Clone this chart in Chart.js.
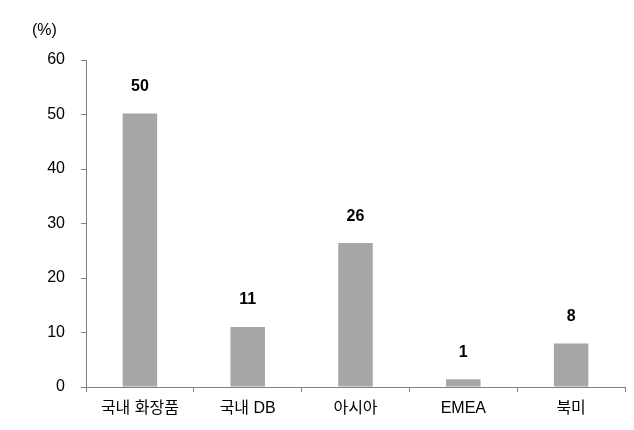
<!DOCTYPE html>
<html>
<head>
<meta charset="utf-8">
<script src="https://cdn.jsdelivr.net/npm/chart.js@4"></script>
<style>
html,body{margin:0;padding:0;background:#fff;}
#wrap{width:634px;height:430px;position:relative;}
</style>
</head>
<body>
<div id="wrap"><canvas id="c" width="634" height="430"></canvas></div>
<script>
const categories = ['국내 화장품', '국내 DB', '아시아', 'EMEA', '북미'];
const values = [50.2, 11, 26.4, 1.4, 8];
const valueLabels = ['50', '11', '26', '1', '8'];
const yTicks = [0, 10, 20, 30, 40, 50, 60];
const unitLabel = '(%)';

const FONT = "'Liberation Sans', 'Noto Sans CJK KR', sans-serif";

const labelPlugin = {
  id: 'labels',
  afterDatasetsDraw(chart) {
    const ctx = chart.ctx;
    const meta = chart.getDatasetMeta(0);
    ctx.save();
    ctx.fillStyle = '#000';
    ctx.font = "bold 16px " + FONT;
    ctx.textAlign = 'center';
    ctx.textBaseline = 'middle';
    meta.data.forEach((bar, i) => {
      ctx.fillText(valueLabels[i], bar.x, bar.y - 27);
    });
    ctx.font = "16px " + FONT;
    ctx.textAlign = 'left';
    ctx.fillText(unitLabel, 32, 31);
    ctx.restore();
  }
};

new Chart(document.getElementById('c'), {
  type: 'bar',
  data: {
    labels: categories,
    datasets: [{
      data: values,
      backgroundColor: '#A6A6A6',
      borderWidth: 0,
      categoryPercentage: 1.0,
      barPercentage: 0.32
    }]
  },
  options: {
    responsive: false,
    animation: false,
    devicePixelRatio: 1,
    layout: { padding: { top: 60, right: 9, left: 0, bottom: 0 } },
    plugins: { legend: { display: false }, tooltip: { enabled: false } },
    scales: {
      x: {
        grid: { display: true, offset: true, drawOnChartArea: false, drawTicks: true, tickLength: 5, color: '#808080', lineWidth: 1 },
        border: { display: true, color: '#808080', width: 1 },
        ticks: { color: '#000', font: { family: FONT, size: 16 }, padding: 7, maxRotation: 0, autoSkip: false },
        afterFit(s) { s.height = 43; }
      },
      y: {
        min: 0, max: 60,
        afterBuildTicks(s) { s.ticks = yTicks.map(v => ({ value: v })); },
        grid: { display: true, drawOnChartArea: false, drawTicks: true, tickLength: 5, color: '#808080', lineWidth: 1 },
        border: { display: true, color: '#808080', width: 1 },
        ticks: { color: '#000', font: { family: FONT, size: 16 }, padding: 16 },
        afterFit(s) { s.width = 86; }
      }
    }
  },
  plugins: [labelPlugin]
});
</script>
</body>
</html>
